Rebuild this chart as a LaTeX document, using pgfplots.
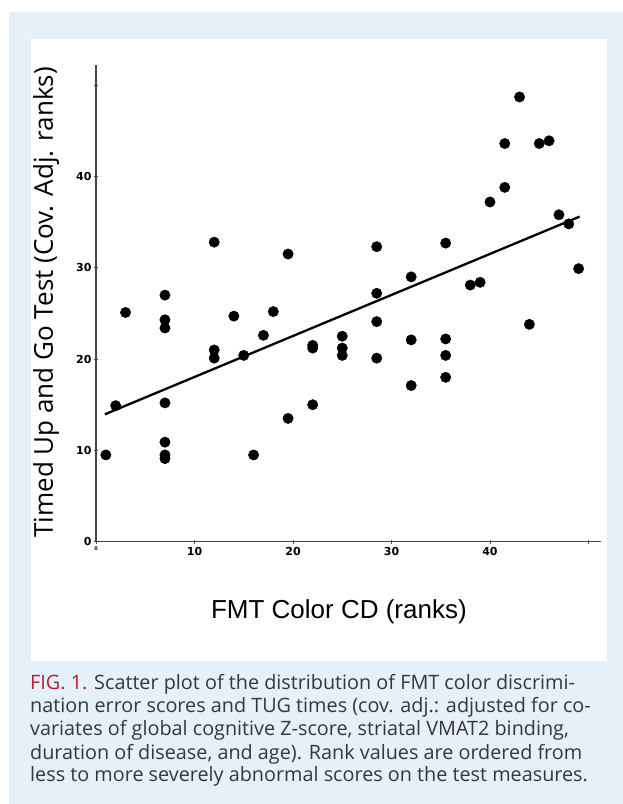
\documentclass[border=0pt]{standalone}
\usepackage{pgfplots}
\pgfplotsset{compat=1.18}
\usepackage{fontspec}
\setmainfont{Liberation Sans}
\newfontfamily\opensans{Open Sans}
\newfontfamily\dejavu{DejaVu Sans}
\definecolor{bgblue}{RGB}{230,240,249}
\definecolor{capred}{RGB}{178,32,48}
\definecolor{capgray}{RGB}{55,55,55}
\definecolor{axgray}{RGB}{70,70,70}
\begin{document}
\begin{tikzpicture}[x=1pt,y=1pt]
\useasboundingbox (0,0) rectangle (623,804);
\fill[white] (0,0) rectangle (623,804);
\fill[bgblue] (9,0) rectangle (623,792);
\fill[white] (31,143) rectangle (607,765);
\begin{axis}[
  at={(96pt,262.3pt)}, anchor=south west,
  scale only axis, width=505pt, height=476.7pt,
  xmin=0, xmax=51.27, ymin=0, ymax=52.2,
  axis lines*=left,
  axis line style={axgray, line width=1.1pt},
  tick style={axgray, line width=0.9pt},
  tick align=center, major tick length=4pt,
  xtick={0,10,20,30,40,50},
  xticklabels={{\fontsize{5}{5}\selectfont 0},10,20,30,40,{}},
  ytick={0,10,20,30,40,50},
  yticklabels={0,10,20,30,40,{}},
  /pgf/number format/assume math mode=true,
  tick label style={font=\dejavu\bfseries\fontsize{11}{11}\selectfont},
  yticklabel style={xshift=1pt},
  xlabel={FMT Color CD (ranks)},
  ylabel={Timed Up and Go Test (Cov. Adj. ranks)},
  xlabel style={at={(axis description cs:0.481,0)}, anchor=base, yshift=-77.3pt, font=\fontsize{26}{26}\selectfont},
  ylabel style={at={(axis description cs:-0.0852,0.502)}, anchor=base, font=\opensans\fontsize{26}{26}\selectfont},
  clip=false,
]
\addplot[only marks, mark=*, mark size=5.2pt, black] coordinates {
(1.0,9.5) (2.0,14.9) (3.0,25.1)
(7,27.0) (7,24.3) (7,23.4) (7,15.2) (7,10.9) (7,9.5) (7,9.1)
(12,32.8) (12,21.0) (12,20.1)
(14,24.7) (15,20.4) (16,9.5) (17,22.6) (18,25.2)
(19.5,31.5) (19.5,13.5)
(22,21.2) (22,21.5) (22,15.0)
(25,22.5) (25,21.2) (25,20.4)
(28.5,32.3) (28.5,27.2) (28.5,24.1) (28.5,20.1)
(32,29.0) (32,22.1) (32,17.1)
(35.5,32.7) (35.5,22.2) (35.5,20.4) (35.5,18.0)
(38,28.1) (39,28.4) (40,37.2)
(41.5,43.6) (41.5,38.8) (43,48.7) (44,23.8)
(45,43.6) (46,43.9) (47,35.8) (48,34.8) (49,29.9)
};
\addplot[black, line width=2.3pt] coordinates {(0.9,13.95) (49.1,35.6)};
\end{axis}
\begin{scope}[every node/.style={anchor=base west, inner sep=0pt, font=\opensans\fontsize{19.8}{19.8}\selectfont, text=capgray}]
\node at (30,114) {\textcolor{capred}{FIG. 1.} Scatter plot of the distribution of FMT color discrimi-};
\node at (30,91) {nation error scores and TUG times (cov. adj.: adjusted for co-};
\node at (30,68) {variates of global cognitive Z-score, striatal VMAT2 binding,};
\node at (30,45) {duration of disease, and age). Rank values are ordered from};
\node at (30,22) {less to more severely abnormal scores on the test measures.};
\end{scope}
\end{tikzpicture}
\end{document}
